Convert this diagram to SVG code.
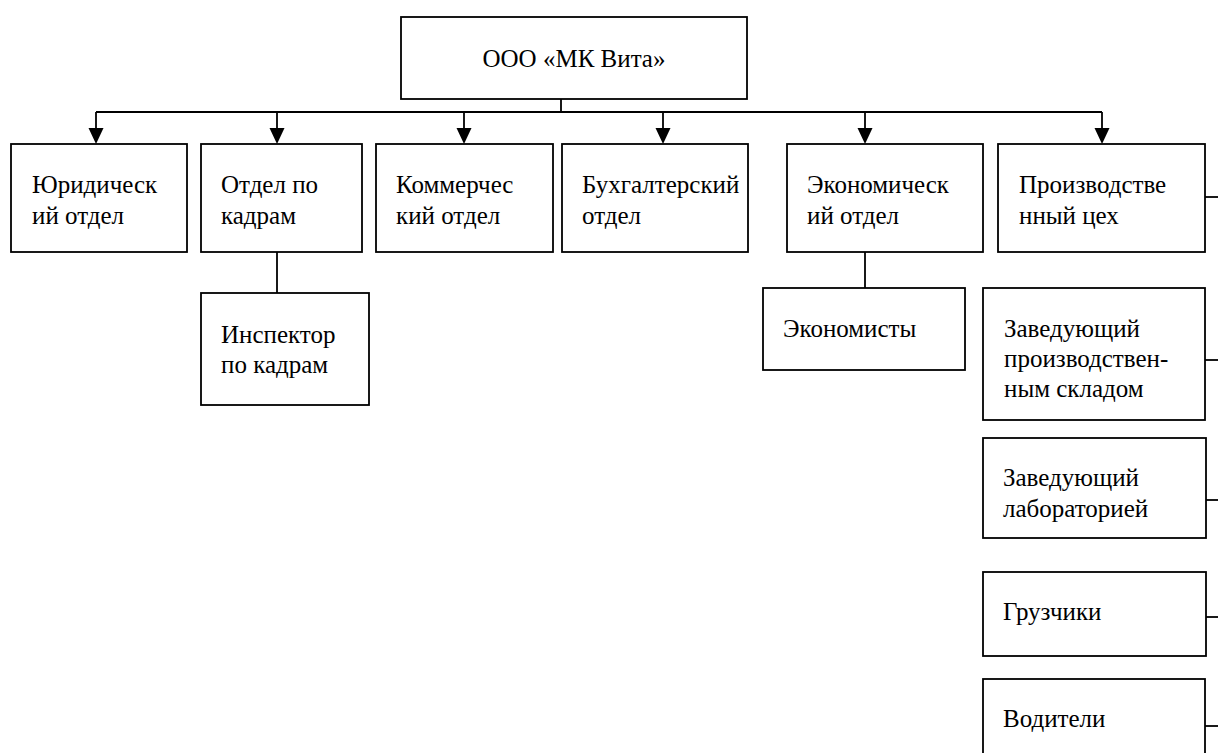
<svg xmlns="http://www.w3.org/2000/svg" width="1218" height="753" viewBox="0 0 1218 753">
<style>
.box{fill:#fff;stroke:#000;stroke-width:1.8}
.ln{fill:none;stroke:#000;stroke-width:1.8}
text{font-family:"Liberation Serif","Times New Roman",serif;font-size:25px;fill:#000}
</style>
<defs>
<marker id="ah" markerWidth="15" markerHeight="16" refX="7.5" refY="16" orient="auto-start-reverse" markerUnits="userSpaceOnUse" viewBox="0 0 15 16">
<path d="M0,0 L15,0 L7.5,16 Z" fill="#000"/>
</marker>
</defs>
<rect width="1218" height="753" fill="#fff"/>
<g id="connectors">
<path class="ln" d="M561,99 V112"/>
<path class="ln" d="M96,112 H1102"/>
<line class="ln" x1="96" y1="112" x2="96" y2="128"/>
<line class="ln" x1="277" y1="112" x2="277" y2="128"/>
<line class="ln" x1="464" y1="112" x2="464" y2="128"/>
<line class="ln" x1="663" y1="112" x2="663" y2="128"/>
<line class="ln" x1="865" y1="112" x2="865" y2="128"/>
<line class="ln" x1="1102" y1="112" x2="1102" y2="128"/>
<path d="M88.5,128 H103.5 L96,144 Z"/>
<path d="M269.5,128 H284.5 L277,144 Z"/>
<path d="M456.5,128 H471.5 L464,144 Z"/>
<path d="M655.5,128 H670.5 L663,144 Z"/>
<path d="M857.5,128 H872.5 L865,144 Z"/>
<path d="M1094.5,128 H1109.5 L1102,144 Z"/>
<line class="ln" x1="277" y1="252" x2="277" y2="293"/>
<line class="ln" x1="865" y1="252" x2="865" y2="288"/>
<line class="ln" x1="1205" y1="197" x2="1218" y2="197"/>
<line class="ln" x1="1205" y1="360" x2="1218" y2="360"/>
<line class="ln" x1="1205" y1="500" x2="1218" y2="500"/>
<line class="ln" x1="1205" y1="617" x2="1218" y2="617"/>
<line class="ln" x1="1205" y1="726" x2="1218" y2="726"/>
</g>
<g id="root">
<rect class="box" x="401" y="17" width="346" height="82"/>
<text x="574" y="67" text-anchor="middle">ООО «МК Вита»</text>
</g>
<g id="legal">
<rect class="box" x="11" y="144" width="176" height="108"/>
<text x="32" y="193">Юридическ</text>
<text x="32" y="224">ий отдел</text>
</g>
<g id="hr">
<rect class="box" x="201" y="144" width="161" height="108"/>
<text x="221" y="193">Отдел по</text>
<text x="221" y="224">кадрам</text>
</g>
<g id="commercial">
<rect class="box" x="376" y="144" width="177" height="108"/>
<text x="396" y="193">Коммерчес</text>
<text x="396" y="224">кий отдел</text>
</g>
<g id="accounting">
<rect class="box" x="562" y="144" width="186" height="108"/>
<text x="582" y="193">Бухгалтерский</text>
<text x="582" y="224">отдел</text>
</g>
<g id="economic">
<rect class="box" x="787" y="144" width="196" height="108"/>
<text x="807" y="193">Экономическ</text>
<text x="807" y="224">ий отдел</text>
</g>
<g id="production">
<rect class="box" x="998" y="144" width="207" height="108"/>
<text x="1019" y="193">Производстве</text>
<text x="1019" y="224">нный цех</text>
</g>
<g id="inspector">
<rect class="box" x="201" y="293" width="168" height="112"/>
<text x="221" y="343">Инспектор</text>
<text x="221" y="373">по кадрам</text>
</g>
<g id="economists">
<rect class="box" x="763" y="288" width="202" height="82"/>
<text x="783" y="337">Экономисты</text>
</g>
<g id="warehouse">
<rect class="box" x="983" y="288" width="222" height="132"/>
<text x="1004" y="337">Заведующий</text>
<text x="1004" y="367">производствен-</text>
<text x="1004" y="397">ным складом</text>
</g>
<g id="lab">
<rect class="box" x="983" y="438" width="223" height="100"/>
<text x="1003" y="486">Заведующий</text>
<text x="1003" y="517">лабораторией</text>
</g>
<g id="loaders">
<rect class="box" x="983" y="572" width="223" height="84"/>
<text x="1003" y="620">Грузчики</text>
</g>
<g id="drivers">
<rect class="box" x="983" y="679" width="222" height="90"/>
<text x="1003" y="727">Водители</text>
</g>
</svg>
